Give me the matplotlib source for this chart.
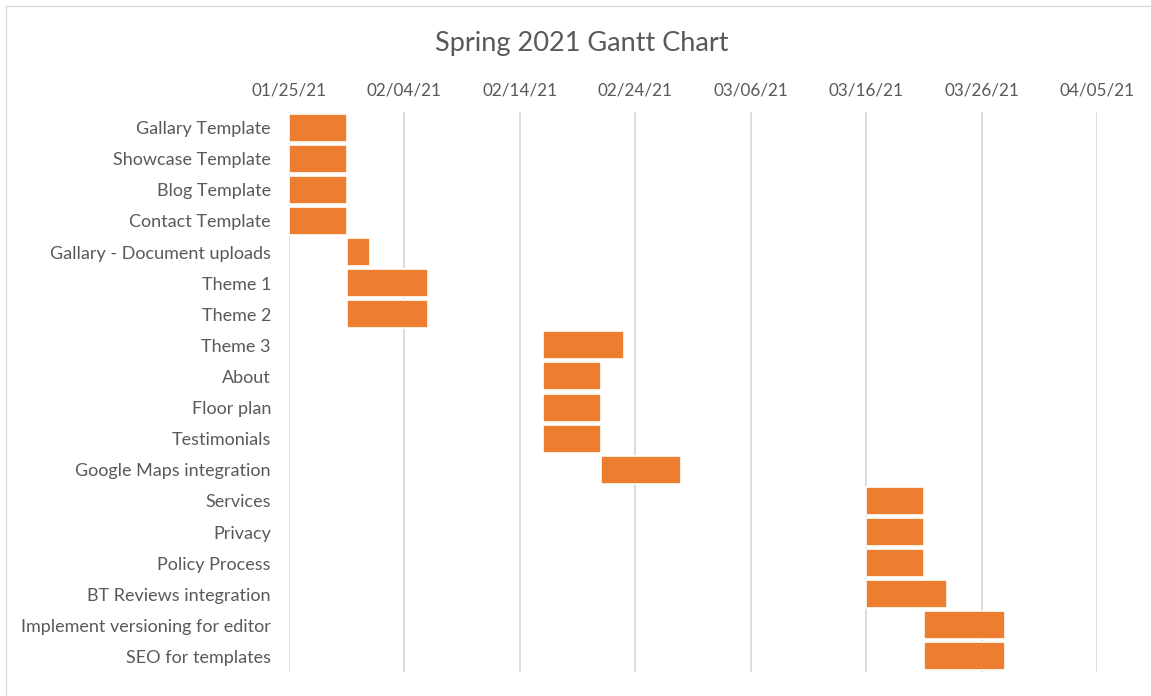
import matplotlib
matplotlib.use("Agg")
import matplotlib.pyplot as plt
import matplotlib.dates as mdates
from matplotlib.lines import Line2D
from datetime import datetime

tasks = [
    "Gallary Template", "Showcase Template", "Blog Template", "Contact Template",
    "Gallary - Document uploads", "Theme 1", "Theme 2", "Theme 3", "About",
    "Floor plan", "Testimonials", "Google Maps integration", "Services",
    "Privacy", "Policy Process", "BT Reviews integration",
    "Implement versioning for editor", "SEO for templates",
]
starts = [
    "01/25/21", "01/25/21", "01/25/21", "01/25/21",
    "01/30/21", "01/30/21", "01/30/21", "02/16/21", "02/16/21",
    "02/16/21", "02/16/21", "02/21/21", "03/16/21",
    "03/16/21", "03/16/21", "03/16/21",
    "03/21/21", "03/21/21",
]
durations = [5, 5, 5, 5, 2, 7, 7, 7, 5, 5, 5, 7, 5, 5, 5, 7, 7, 7]
tick_dates = ["01/25/21", "02/04/21", "02/14/21", "02/24/21",
              "03/06/21", "03/16/21", "03/26/21", "04/05/21"]

plt.rcParams["font.family"] = ["Lato", "DejaVu Sans"]
text_col = "#595959"

fig = plt.figure(figsize=(11.51, 6.96), dpi=100)
ax = fig.add_axes([289 / 1151, 1 - 672 / 696, 808 / 1151, 560 / 696])

start_nums = [mdates.date2num(datetime.strptime(s, "%m/%d/%y")) for s in starts]
ypos = list(range(len(tasks)))
ax.barh(ypos, durations, left=start_nums, height=0.9, color="#ED7D31",
        edgecolor="white", linewidth=1.2, zorder=3)

ticks = [mdates.date2num(datetime.strptime(t, "%m/%d/%y")) for t in tick_dates]
ax.set_xlim(ticks[0], ticks[-1])
ax.set_ylim(len(tasks) - 0.5, -0.5)
ax.set_xticks(ticks)
ax.set_xticklabels(tick_dates)
ax.xaxis.tick_top()
ax.set_yticks(ypos)
ax.set_yticklabels(tasks)
ax.tick_params(axis="x", length=0, pad=10, labelsize=12.3, colors=text_col)
ax.tick_params(axis="y", length=0, pad=13, labelsize=13, colors=text_col)
ax.grid(axis="x", color="#D9D9D9", linewidth=1.3, zorder=0)
for s in ax.spines.values():
    s.set_visible(False)

fig.text(582 / 1151, 1 - 43 / 696, "Spring 2021 Gantt Chart", ha="center",
         va="center", fontsize=19.5, color=text_col)

# chart frame (top and left edges visible)
fig.add_artist(Line2D([6 / 1151, 6 / 1151], [0, 1 - 6 / 696],
                      transform=fig.transFigure, color="#D9D9D9", lw=1))
fig.add_artist(Line2D([6 / 1151, 1], [1 - 6 / 696, 1 - 6 / 696],
                      transform=fig.transFigure, color="#D9D9D9", lw=1))

fig.savefig("out.png", dpi=100, facecolor="white")
